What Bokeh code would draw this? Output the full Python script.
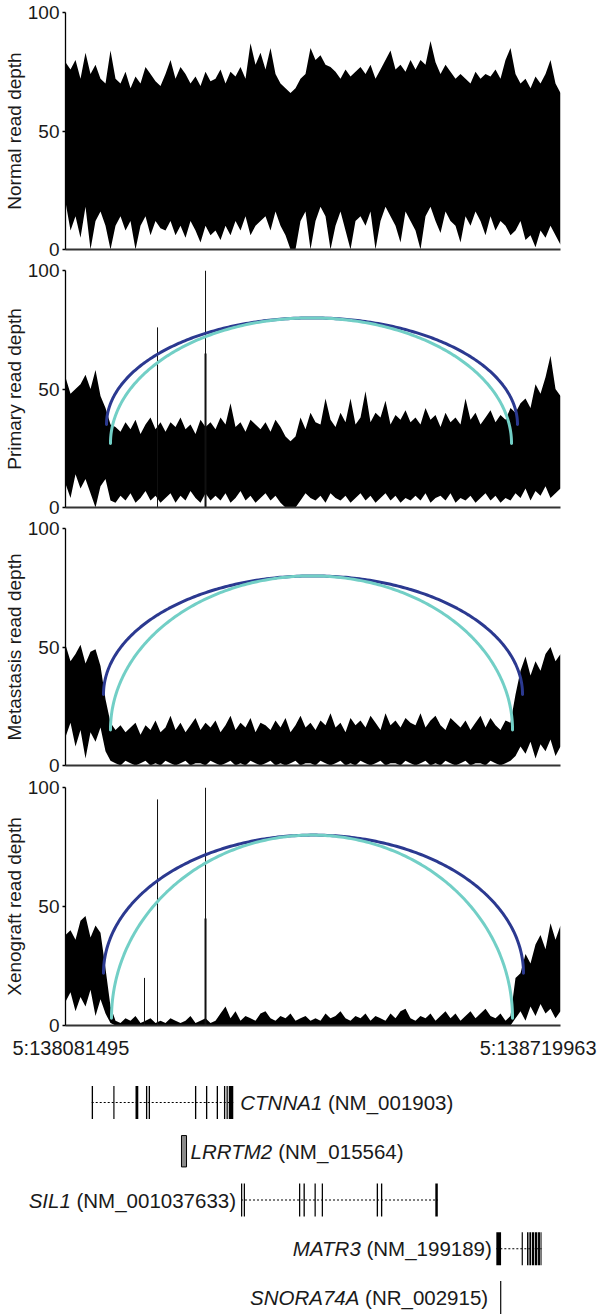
import numpy as np
from bokeh.plotting import figure
from bokeh.models import Range1d, FixedTicker
from bokeh.layouts import column
from bokeh.embed import file_html
from bokeh.resources import INLINE
from bokeh.core.properties import value

# ---------------- data ----------------
region_start_bp = 138081495
region_end_bp = 138719963
region_labels = ["5:138081495", "5:138719963"]
span_kb = (region_end_bp - region_start_bp) / 1000.0

panel_titles = ["Normal read depth", "Primary read depth",
                "Metastasis read depth", "Xenograft read depth"]

# read-depth envelope (100 evenly spaced bins across the region): upper / lower
normal_hi = [79, 76, 80, 72, 83, 74, 78, 72, 70, 84,
             72, 70, 75, 68, 73, 70, 77, 74, 71, 69,
             74, 80, 72, 77, 74, 70, 73, 69, 75, 71,
             72, 76, 70, 75, 73, 77, 72, 87, 78, 83,
             76, 85, 74, 70, 68, 66, 68, 72, 74, 85,
             80, 82, 78, 77, 75, 72, 76, 73, 75, 77,
             74, 78, 72, 76, 80, 84, 76, 78, 75, 80,
             76, 80, 78, 88, 79, 74, 78, 75, 72, 74,
             72, 70, 75, 72, 74, 73, 76, 72, 80, 85,
             74, 70, 72, 68, 73, 70, 74, 80, 70, 66]
normal_lo = [20, 8, 14, 5, 18, 0, 12, 16, 10, 0,
             10, 14, 8, 12, 0, 10, 14, 6, 12, 9,
             8, 12, 6, 10, 5, 12, 8, 3, 10, 6,
             8, 4, 10, 6, 12, 8, 14, 6, 10, 12,
             14, 8, 16, 10, 6, 0, 0, 12, 16, 0,
             12, 18, 14, 0, 10, 16, 8, 0, 12, 14,
             10, 16, 0, 12, 18, 14, 10, 3, 16, 12,
             8, 0, 14, 18, 12, 7, 16, 12, 10, 3,
             14, 10, 16, 12, 6, 14, 8, 12, 10, 6,
             8, 12, 4, 6, 1, 8, 5, 10, 6, 2]

primary_hi = [55, 48, 50, 52, 56, 50, 58, 47, 42, 35,
              34, 32, 36, 33, 37, 31, 35, 38, 33, 36,
              32, 36, 34, 38, 33, 35, 31, 37, 34, 36,
              33, 38, 35, 44, 34, 36, 32, 37, 35, 33,
              36, 32, 37, 34, 30, 28, 30, 38, 33, 40,
              36, 35, 46, 37, 34, 40, 36, 46, 35, 38,
              49, 36, 40, 38, 45, 35, 39, 37, 41, 36,
              38, 35, 42, 37, 39, 34, 40, 36, 38, 35,
              46, 37, 40, 35, 38, 41, 36, 39, 37, 42,
              40, 44, 46, 42, 52, 48, 55, 64, 50, 47]
primary_lo = [10, 4, 14, 8, 12, 6, 0, 9, 12, 3,
              2, 5, 3, 6, 2, 4, 7, 3, 5, 2,
              4, 6, 2, 5, 3, 7, 4, 2, 6, 3,
              5, 3, 6, 2, 4, 7, 3, 5, 2, 4,
              6, 3, 5, 2, 0, 0, 0, 3, 6, 4,
              3, 5, 2, 6, 4, 3, 5, 2, 4, 6,
              3, 5, 2, 4, 6, 3, 5, 2, 4, 3,
              5, 3, 6, 2, 4, 5, 3, 6, 2, 4,
              3, 5, 2, 4, 6, 3, 5, 2, 4, 3,
              6, 4, 8, 3, 7, 5, 9, 4, 6, 8]

metastasis_hi = [51, 44, 47, 51, 43, 48, 49, 42, 28, 18,
                 15, 17, 14, 16, 18, 13, 17, 15, 19, 14,
                 16, 21, 15, 18, 14, 17, 20, 15, 18, 16,
                 19, 14, 17, 21, 15, 18, 16, 20, 14, 18,
                 17, 15, 19, 16, 20, 14, 17, 21, 16, 18,
                 15, 19, 17, 22, 16, 18, 14, 20, 17, 19,
                 16, 21, 18, 15, 22, 17, 19, 16, 20, 18,
                 17, 22, 16, 19, 21, 17, 15, 20, 18, 16,
                 19, 15, 18, 21, 16, 20, 17, 15, 19, 18,
                 30, 40, 46, 38, 44, 40, 47, 50, 44, 47]
metastasis_lo = [12, 18, 8, 15, 3, 14, 10, 16, 6, 2,
                 1, 0, 2, 1, 0, 1, 2, 0, 1, 0,
                 2, 1, 0, 1, 2, 0, 1, 1, 0, 2,
                 1, 0, 1, 2, 0, 1, 0, 2, 1, 0,
                 1, 2, 0, 1, 0, 1, 2, 0, 1, 1,
                 0, 2, 1, 0, 1, 2, 0, 1, 0, 2,
                 1, 0, 1, 2, 0, 1, 1, 0, 2, 1,
                 0, 1, 2, 0, 1, 0, 2, 1, 0, 1,
                 2, 0, 1, 1, 0, 2, 1, 0, 1, 2,
                 4, 8, 5, 10, 3, 9, 6, 11, 4, 8]

xenograft_hi = [38, 40, 36, 44, 46, 37, 42, 39, 24, 8,
                2, 1, 3, 2, 4, 1, 2, 3, 1, 2,
                1, 3, 2, 1, 2, 4, 1, 2, 3, 1,
                2, 5, 8, 3, 6, 2, 4, 3, 2, 5,
                6, 3, 2, 4, 3, 5, 2, 3, 4, 2,
                3, 2, 5, 3, 4, 6, 3, 2, 4, 3,
                5, 2, 4, 3, 2, 5, 3, 6, 7, 3,
                2, 4, 3, 5, 2, 4, 6, 3, 5, 2,
                4, 6, 3, 5, 7, 4, 3, 5, 2, 4,
                20, 22, 30, 26, 34, 38, 32, 43, 36, 42]
xenograft_lo = [10, 14, 6, 12, 8, 15, 4, 11, 5, 1,
                0, 0, 0, 0, 0, 0, 0, 0, 0, 0,
                0, 0, 0, 0, 0, 0, 0, 0, 0, 0,
                0, 0, 0, 0, 0, 0, 0, 0, 0, 0,
                0, 0, 0, 0, 0, 0, 0, 0, 0, 0,
                0, 0, 0, 0, 0, 0, 0, 0, 0, 0,
                0, 0, 0, 0, 0, 0, 0, 0, 0, 0,
                0, 0, 0, 0, 0, 0, 0, 0, 0, 0,
                0, 0, 0, 0, 0, 0, 0, 0, 0, 0,
                3, 6, 2, 8, 4, 9, 5, 7, 3, 6]

# isolated tall spikes (kb from region start, depth)
primary_spike_kb = [118.7, 180.6, 180.6]
primary_spike_depth = [76, 100, 65]
xenograft_spike_kb = [101.9, 118.7, 180.6, 180.6]
xenograft_spike_depth = [20, 95, 100, 45]

# split-read arcs (kb start, kb end, depth at ends, depth at top)
arc_panel = [1, 1, 2, 2, 3, 3]
arc_kind = ["a", "b", "a", "b", "a", "b"]
arc_start_kb = [52.9, 58.0, 49.0, 58.0, 49.0, 59.3]
arc_end_kb = [583.0, 575.3, 589.5, 576.6, 590.7, 576.6]
arc_base = [35, 27, 30, 15, 22, 3]
arc_peak = [80, 80, 80, 80, 80, 80]

# gene models (kb from region start)
gene_names = ["CTNNA1", "LRRTM2", "SIL1", "MATR3", "SNORA74A"]
gene_accessions = ["NM_001903", "NM_015564", "NM_001037633", "NM_199189", "NR_002915"]
exon_starts = [
    [33.8, 61.7, 90.3, 103.8, 107.3, 167.0, 181.2, 195.0, 204.4, 207.7, 210.6],
    [149.6],
    [226.4, 229.9, 301.2, 307.0, 321.2, 330.5, 401.4, 406.9, 477.0],
    [555.7, 588.4, 595.3, 598.3, 601.6, 605.4, 609.5, 612.7],
    [560.6],
]
exon_ends = [
    [35.5, 63.2, 93.9, 105.5, 109.0, 168.7, 182.9, 196.7, 206.1, 209.3, 216.4],
    [156.1],
    [228.0, 231.5, 302.8, 308.7, 322.8, 332.1, 403.1, 408.6, 480.2],
    [561.8, 589.9, 597.2, 600.6, 604.5, 608.6, 612.0, 614.0],
    [562.1],
]

# ---------------- style / layout ----------------
FONT = "Liberation Sans"
FS_GENE = 20.5
TXT = "#1a1a1a"
BLUE = "#2b3990"
TURQ = "#72cfc6"
FRAME_W = 495
BORDER_L, BORDER_R = 65, 40
KB_PER_PX = span_kb / FRAME_W

# (top border, frame height, bottom border) of each panel
panel_borders = [(12, 237, 11), (10, 237, 11), (10, 237, 11), (11, 238, 11)]
label_side = ["right", "right", "left", "left", "left"]
label_off_px = [7, 4, -5, -4.5, -12]

x_range = Range1d(0, span_kb)
bins_kb = np.linspace(0, span_kb, 100)

panel_hi = [normal_hi, primary_hi, metastasis_hi, xenograft_hi]
panel_lo = [normal_lo, primary_lo, metastasis_lo, xenograft_lo]
panel_spikes = {1: (primary_spike_kb, primary_spike_depth, [1, 1, 2]),
                3: (xenograft_spike_kb, xenograft_spike_depth, [1, 1, 1, 2])}

plots = []
for k in range(4):
    top, fh, bot = panel_borders[k]
    p = figure(frame_width=FRAME_W, frame_height=fh,
               min_border_left=BORDER_L, min_border_right=BORDER_R,
               min_border_top=top, min_border_bottom=bot,
               x_range=x_range, y_range=Range1d(0, 100),
               output_backend="svg", toolbar_location=None)
    p.outline_line_color = None
    p.xgrid.visible = False
    p.ygrid.visible = False

    p.varea(x=bins_kb, y1=panel_lo[k], y2=panel_hi[k], fill_color="black")
    if k in panel_spikes:
        sx, sy, sw = panel_spikes[k]
        for xx, yy, ww in zip(sx, sy, sw):
            p.segment(x0=[xx], y0=[0], x1=[xx], y1=[yy], line_color="#111", line_width=ww)

    for i in range(len(arc_panel)):
        if arc_panel[i] != k:
            continue
        t = np.linspace(0, np.pi, 241)
        xc = (arc_start_kb[i] + arc_end_kb[i]) / 2
        a = (arc_end_kb[i] - arc_start_kb[i]) / 2
        xs = xc - a * np.cos(t)
        ys = arc_base[i] + (arc_peak[i] - arc_base[i]) * np.sin(t)
        p.line(xs, ys, line_color=BLUE if arc_kind[i] == "a" else TURQ,
               line_width=3, line_cap="round")

    ya = p.yaxis[0]
    ya.ticker = FixedTicker(ticks=[0, 50, 100])
    ya.major_label_text_font = FONT
    ya.major_label_text_font_size = "19px"
    ya.major_label_text_color = TXT
    ya.major_label_standoff = 3
    ya.major_tick_out = 3
    ya.major_tick_in = 0
    ya.minor_tick_line_color = None
    ya.axis_line_width = 1.3
    ya.axis_line_color = "black"
    ya.major_tick_line_width = 1.3
    ya.axis_label = panel_titles[k]
    ya.axis_label_text_font = FONT
    ya.axis_label_text_font_size = "19px"
    ya.axis_label_text_font_style = "normal"
    ya.axis_label_text_color = TXT
    ya.axis_label_standoff = 0

    xa = p.xaxis[0]
    xa.ticker = FixedTicker(ticks=[])
    xa.major_label_text_font_size = "0px"
    xa.major_tick_line_color = None
    xa.minor_tick_line_color = None
    xa.axis_line_width = 2
    xa.axis_line_color = "#333333"
    plots.append(p)

# ---------------- gene track (separate root, full-width frame) ----------------
ROW_PX = 48.75
G_H = 278
ROW0_OFF = 66
g = figure(width=600, height=G_H, min_border=0,
           min_border_left=0, min_border_right=0, min_border_top=0, min_border_bottom=0,
           x_range=Range1d(-BORDER_L * KB_PER_PX, (600 - BORDER_L) * KB_PER_PX),
           y_range=Range1d(-(G_H - ROW0_OFF) / ROW_PX, ROW0_OFF / ROW_PX),
           output_backend="svg", toolbar_location=None,
           x_axis_location=None, y_axis_location=None)
g.outline_line_color = None
g.xgrid.visible = False
g.ygrid.visible = False

ARIAL_W = {' ': 278, '(': 333, ')': 333, '_': 556, 'A': 667, 'C': 722, 'I': 278, 'L': 556,
           'M': 833, 'N': 722, 'O': 778, 'R': 722, 'S': 667, 'T': 611}


def text_w(s, fs):
    return sum(ARIAL_W.get(c, 556) for c in s) / 1000.0 * fs


HALF = 16.5 / ROW_PX
for i, name in enumerate(gene_names):
    y = -i
    st, en = exon_starts[i], exon_ends[i]
    if len(st) > 1:
        g.segment(x0=[min(st)], y0=[y], x1=[max(en)], y1=[y], line_color="black",
                  line_width=1, line_dash="2 2")
    if name == "LRRTM2":
        g.quad(left=st, right=en, top=[y + HALF * 0.95] * len(st), bottom=[y - HALF * 0.95] * len(st),
               fill_color="#8a8a8a", line_color="black", line_width=1)
    else:
        g.quad(left=st, right=en, top=[y + HALF] * len(st), bottom=[y - HALF] * len(st),
               fill_color="black", line_color=None)
    acc = "(" + gene_accessions[i] + ")"
    off = label_off_px[i]
    common = dict(text_font=value(FONT), text_font_size=value(f"{FS_GENE}px"),
                  text_baseline="middle", text_color=TXT)
    if label_side[i] == "right":
        ax = max(en)
        g.text(x=[ax], y=[y], text=[name], x_offset=off, text_align="left",
               text_font_style="italic", **common)
        g.text(x=[ax], y=[y], text=[acc], x_offset=off + text_w(name + " ", FS_GENE),
               text_align="left", **common)
    else:
        ax = min(st)
        g.text(x=[ax], y=[y], text=[acc], x_offset=off, text_align="right", **common)
        g.text(x=[ax], y=[y], text=[name], x_offset=off - text_w(" " + acc, FS_GENE),
               text_align="right", text_font_style="italic", **common)

# region coordinate labels
ylab = (ROW0_OFF - 11.5) / ROW_PX
g.text(x=[0], y=[ylab], text=[region_labels[0]], x_offset=-53, text_align="left",
       text_baseline="middle", text_font=value(FONT), text_font_size=value("20px"), text_color=TXT)
g.text(x=[span_kb], y=[ylab], text=[region_labels[1]], x_offset=36, text_align="right",
       text_baseline="middle", text_font=value(FONT), text_font_size=value("20px"), text_color=TXT)

panels = column(*plots, spacing=0)
open("out.html", "w").write(file_html([panels, g], INLINE))
